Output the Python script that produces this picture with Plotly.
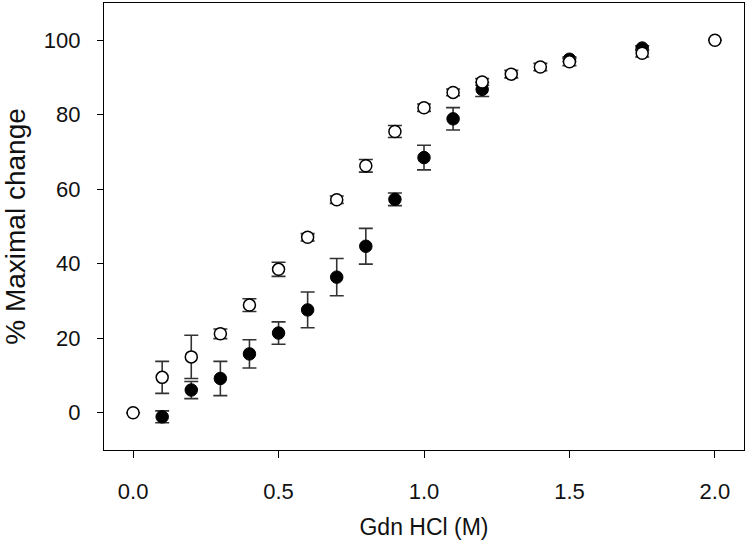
import plotly.graph_objects as go

# Open circles series
open_x = [0.0, 0.1, 0.2, 0.3, 0.4, 0.5, 0.6, 0.7, 0.8, 0.9, 1.0, 1.1, 1.2, 1.3, 1.4, 1.5, 1.75, 2.0]
open_y = [0.0, 9.5, 15.0, 21.2, 28.9, 38.5, 47.1, 57.2, 66.3, 75.5, 81.9, 86.0, 88.8, 90.9, 92.8, 94.2, 96.5, 100.0]
open_err = [0.0, 4.3, 5.8, 1.3, 1.7, 1.9, 1.0, 1.0, 1.7, 1.6, 1.0, 0.9, 0.9, 1.0, 1.0, 1.0, 1.0, 0.0]

# Filled circles series
fill_x = [0.1, 0.2, 0.3, 0.4, 0.5, 0.6, 0.7, 0.8, 0.9, 1.0, 1.1, 1.2, 1.5, 1.75]
fill_y = [-1.1, 6.1, 9.2, 15.8, 21.4, 27.6, 36.4, 44.7, 57.3, 68.5, 78.9, 86.8, 94.9, 97.9]
fill_err = [1.6, 2.3, 4.6, 3.8, 3.0, 4.8, 5.0, 4.8, 1.7, 3.3, 3.0, 1.9, 0.6, 0.6]

x_ticks = [0.0, 0.5, 1.0, 1.5, 2.0]
x_tick_labels = ["0.0", "0.5", "1.0", "1.5", "2.0"]
y_ticks = [0, 20, 40, 60, 80, 100]

font_family = "Arial, Liberation Sans, sans-serif"

fig = go.Figure()
fig.add_trace(go.Scatter(
    x=fill_x, y=fill_y, mode="markers",
    marker=dict(symbol="circle", size=12.5, color="black", line=dict(color="black", width=1)),
    error_y=dict(type="data", array=fill_err, visible=True, color="#333333", thickness=1.6, width=7),
    showlegend=False,
))
fig.add_trace(go.Scatter(
    x=open_x, y=open_y, mode="markers",
    marker=dict(symbol="circle", size=12, color="white", line=dict(color="black", width=1.5)),
    error_y=dict(type="data", array=open_err, visible=True, color="#333333", thickness=1.6, width=7),
    showlegend=False,
))

fig.update_layout(
    width=747, height=546,
    margin=dict(l=104, r=3, t=3, b=96),
    plot_bgcolor="white", paper_bgcolor="white",
    font=dict(family=font_family, color="black"),
)
fig.update_xaxes(
    range=[-0.1, 2.1], tickvals=x_ticks, ticktext=x_tick_labels,
    showgrid=False, zeroline=False, showline=True, linecolor="black", linewidth=1.2,
    mirror=True, ticks="outside", ticklen=7, tickcolor="black", tickwidth=1,
    tickfont=dict(family=font_family, size=22, color="#111111"), ticklabelstandoff=14,
    title=dict(text="Gdn HCl (M)", font=dict(family=font_family, size=23, color="#111111"), standoff=16),
)
fig.update_yaxes(
    range=[-10, 110], tickvals=y_ticks,
    showgrid=False, zeroline=False, showline=True, linecolor="black", linewidth=1.2,
    mirror=True, ticks="outside", ticklen=6, tickcolor="black", tickwidth=1,
    tickfont=dict(family=font_family, size=22, color="#111111"), ticklabelstandoff=12,
    title=dict(text="% Maximal change", font=dict(family=font_family, size=28, color="#111111"), standoff=10),
)

fig.write_html("out.html", config={"displayModeBar": False},
               post_script="document.body.style.margin='0';")
